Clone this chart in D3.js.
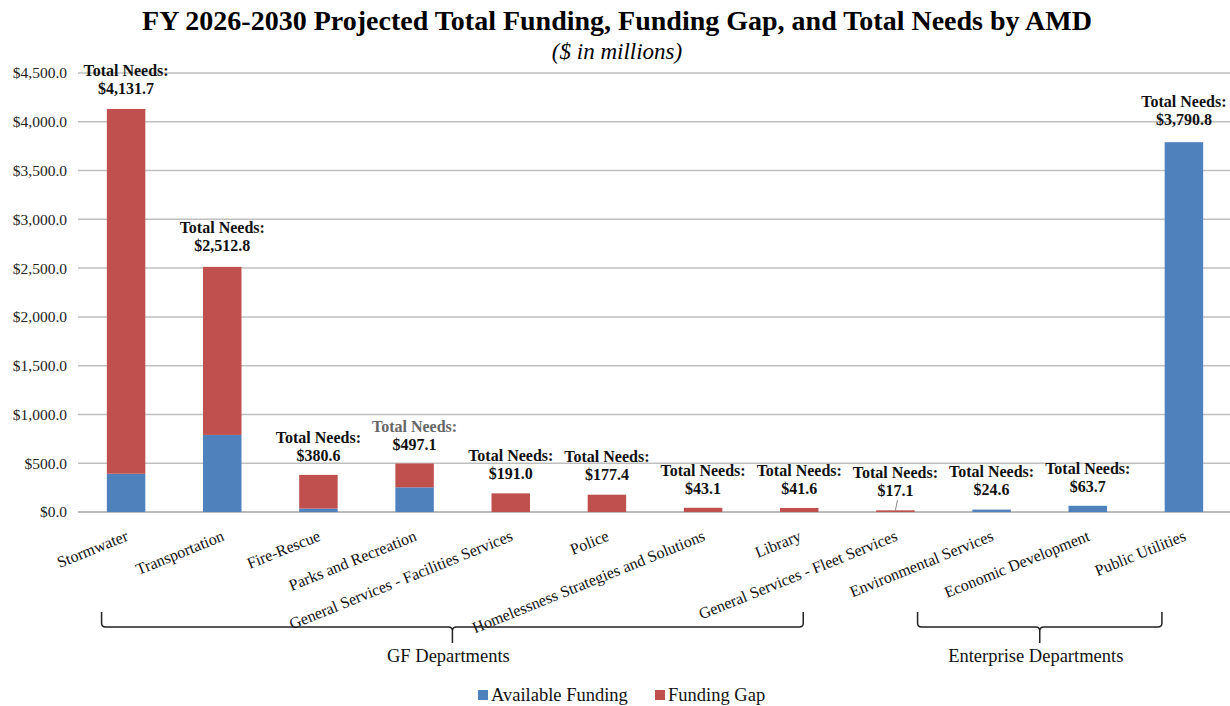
<!DOCTYPE html>
<html>
<head>
<meta charset="utf-8">
<script src="https://cdn.jsdelivr.net/npm/d3@7"></script>
<style>
  body { margin: 0; background: #fff; }
  svg { display: block; font-family: "Liberation Serif", "Times New Roman", serif; }
</style>
</head>
<body>
<svg id="chart"></svg>
<script>
// Chart data ($ in millions)
const categories = [
    "Stormwater", "Transportation", "Fire-Rescue", "Parks and Recreation",
    "General Services - Facilities Services", "Police",
    "Homelessness Strategies and Solutions", "Library",
    "General Services - Fleet Services", "Environmental Services",
    "Economic Development", "Public Utilities"
];
const availableFunding = [392.0, 790.0, 35.0, 253.0, 0, 0, 0, 0, 0, 24.6, 63.7, 3790.8];
const fundingGap = [3739.7, 1722.8, 345.6, 244.1, 191.0, 177.4, 43.1, 41.6, 17.1, 0, 0, 0];
const totalNeeds = [4131.7, 2512.8, 380.6, 497.1, 191.0, 177.4, 43.1, 41.6, 17.1, 24.6, 63.7, 3790.8];
const yTicks = [0, 500, 1000, 1500, 2000, 2500, 3000, 3500, 4000, 4500];
const seriesNames = ["Available Funding", "Funding Gap"];
const groups = [
    { name: "GF Departments", first: "Stormwater", last: "Library" },
    { name: "Enterprise Departments", first: "Environmental Services", last: "Public Utilities" }
];

// Layout
const width = 1230, height = 706;
const colors = ["#4F81BD", "#C0504D"];
const plot = { left: 78, right: 1232, top: 73, bottom: 512 };
// pixels between bar top and value label baseline (labels were hand placed)
const labelLift = [15, 16, 14, 14, 14, 15, 14, 14, 14, 15, 14, 17];
// bracket ends, offset from the band centre of first/last category
const bracketOffsets = [[-24.5, 4], [-74, -22]];

const svg = d3.select("#chart").attr("width", width).attr("height", height);

const x = d3.scaleBand().domain(categories).range([plot.left, plot.right]).paddingInner(0.6).paddingOuter(0.3);
const y = d3.scaleLinear().domain([0, 4500]).range([plot.bottom, plot.top]);
const cx = d => x(d) + x.bandwidth() / 2;

// Title
svg.append("text")
    .attr("x", 617).attr("y", 30)
    .attr("text-anchor", "middle")
    .style("font-size", "28px").style("font-weight", "bold")
    .text("FY 2026-2030 Projected Total Funding, Funding Gap, and Total Needs by AMD");
svg.append("text")
    .attr("x", 617).attr("y", 59)
    .attr("text-anchor", "middle")
    .style("font-size", "23px").style("font-style", "italic")
    .text("($ in millions)");

// Grid lines and y labels
svg.append("g").selectAll("line")
    .data(yTicks)
    .enter().append("line")
    .attr("x1", plot.left).attr("x2", width)
    .attr("y1", d => y(d)).attr("y2", d => y(d))
    .style("stroke", d => d === 0 ? "#a6a6a6" : "#bfbfbf")
    .style("stroke-width", 1.5);

svg.append("g").selectAll("text")
    .data(yTicks)
    .enter().append("text")
    .attr("x", 67).attr("y", d => y(d))
    .attr("dy", "0.35em")
    .attr("text-anchor", "end")
    .style("font-size", "15.5px").style("fill", "#222")
    .text(d => "$" + d3.format(",.1f")(d));

// Stacked bars
const rows = categories.map((c, i) => ({ cat: c, avail: availableFunding[i], gap: fundingGap[i] }));
const stacked = d3.stack().keys(["avail", "gap"])(rows);

svg.append("g").selectAll("g")
    .data(stacked)
    .enter().append("g")
    .style("fill", (d, i) => colors[i])
    .selectAll("rect")
    .data(d => d)
    .enter().append("rect")
    .attr("x", d => x(d.data.cat))
    .attr("width", x.bandwidth())
    .attr("y", d => y(d[1]))
    .attr("height", d => y(d[0]) - y(d[1]));

// Total needs labels
const labels = svg.append("g").selectAll("g")
    .data(categories)
    .enter().append("g")
    .attr("transform", (d, i) => `translate(${cx(d)},${y(totalNeeds[i]) - labelLift[i]})`)
    .style("font-weight", "bold").style("font-size", "16px")
    .attr("text-anchor", "middle");
labels.append("text")
    .attr("y", -18)
    .style("fill", (d, i) => i === 3 ? "#666" : "#111")
    .text("Total Needs:");
labels.append("text")
    .style("fill", "#111")
    .text((d, i) => "$" + d3.format(",.1f")(totalNeeds[i]));

// leader line for the tiny fleet bar
const fleet = "General Services - Fleet Services";
svg.append("line")
    .attr("x1", cx(fleet) + 2).attr("y1", y(17.1) - 10)
    .attr("x2", cx(fleet)).attr("y2", y(17.1))
    .style("stroke", "#888").style("stroke-width", 1);

// Category labels
svg.append("g").selectAll("text")
    .data(categories)
    .enter().append("text")
    .attr("transform", d => `translate(${cx(d) + 3},${540}) rotate(-22)`)
    .attr("text-anchor", "end")
    .style("font-size", "16px").style("fill", "#111")
    .text(d => d);

// Group brackets
const bracketTop = 612, bracketMid = 627, bracketTip = 643, r = 4;
groups.forEach((g, i) => {
    const x0 = cx(g.first) + bracketOffsets[i][0];
    const x1 = cx(g.last) + bracketOffsets[i][1];
    const xm = (x0 + x1) / 2;
    const p = d3.path();
    p.moveTo(x0, bracketTop);
    p.lineTo(x0, bracketMid - r);
    p.quadraticCurveTo(x0, bracketMid, x0 + r, bracketMid);
    p.lineTo(xm - r, bracketMid);
    p.quadraticCurveTo(xm, bracketMid, xm, bracketMid + r);
    p.lineTo(xm, bracketTip);
    p.moveTo(xm, bracketMid + r);
    p.quadraticCurveTo(xm, bracketMid, xm + r, bracketMid);
    p.lineTo(x1 - r, bracketMid);
    p.quadraticCurveTo(x1, bracketMid, x1, bracketMid - r);
    p.lineTo(x1, bracketTop);
    svg.append("path")
        .attr("d", p.toString())
        .style("fill", "none").style("stroke", "#222").style("stroke-width", 1.5);
    svg.append("text")
        .attr("x", xm - 4).attr("y", bracketTip + 19)
        .attr("text-anchor", "middle")
        .style("font-size", "18.5px").style("fill", "#111")
        .text(g.name);
});

// Legend
const legendX = [478, 655];
const legend = svg.append("g").selectAll("g")
    .data(seriesNames)
    .enter().append("g")
    .attr("transform", (d, i) => `translate(${legendX[i]},701)`);
legend.append("rect")
    .attr("y", -11).attr("width", 10).attr("height", 10)
    .style("fill", (d, i) => colors[i]);
legend.append("text")
    .attr("x", 13)
    .style("font-size", "18.5px").style("fill", "#111")
    .text(d => d);
</script>
</body>
</html>
